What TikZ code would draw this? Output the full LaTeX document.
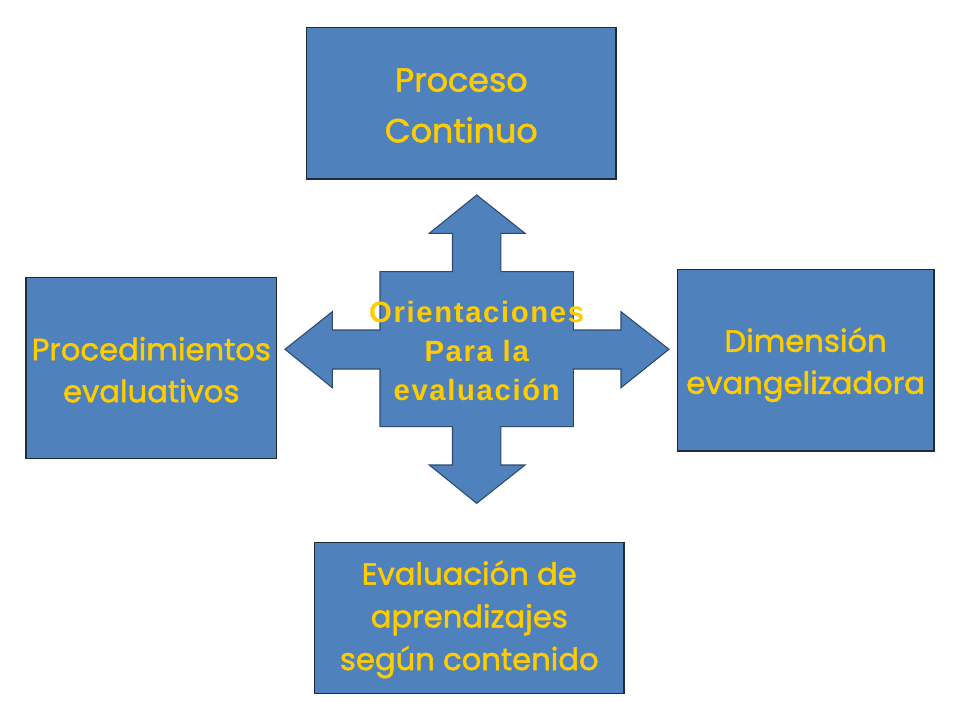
\documentclass[tikz,border=0pt]{standalone}
\usepackage{fontspec}
\setmainfont{Poppins}[FakeBold=1.6]
\newfontfamily\crossfont{Liberation Sans}[LetterSpace=5.5]
\definecolor{boxblue}{HTML}{4F81BD}
\definecolor{gold}{HTML}{FFCC00}
\definecolor{edgedark}{HTML}{1F2A3A}
\definecolor{crossedge}{HTML}{2C4A70}
\tikzset{
  outerbox/.style={draw=edgedark, line width=0.9pt, fill=boxblue, inner sep=0pt},
  boxtext/.style={text=gold, align=center, font=\fontsize{23}{31.5}\selectfont},
  crosstext/.style={text=gold, align=center, font=\crossfont\bfseries\fontsize{22}{29}\selectfont},
}
\begin{document}
\begin{tikzpicture}[x=0.75pt,y=-0.75pt]
\useasboundingbox (0,0) rectangle (960,720);
\fill[white] (0,0) rectangle (960,720);
% outer boxes
\draw[outerbox] (306.7,27.7) rectangle (616,179);
\node[boxtext, font=\fontsize{25}{38}\selectfont] (proceso) at (461.3,105.5) {Proceso\\Continuo};
\draw[outerbox] (26,277.3) rectangle (276.7,458.3);
\node[boxtext] (proc) at (151.3,369.7) {Procedimientos\\evaluativos};
\draw[outerbox] (677.3,269.3) rectangle (934,451);
\node[boxtext] (dim) at (805.6,364.8) {Dimensión\\evangelizadora};
\draw[outerbox] (314.7,542.7) rectangle (624,693.3);
\node[boxtext, font=\fontsize{23}{32}\selectfont] (eval) at (469.3,619.4) {Evaluación de\\aprendizajes\\según contenido};
% central cross
\draw[crossedge, line width=0.8pt, fill=boxblue]
  (476.7,195) -- (525,233.3) -- (500.9,233.3) -- (500.9,271.7) -- (573.3,271.7)
  -- (573.3,330) -- (621,330) -- (621,311.7) -- (669,349.3) -- (621,387.7)
  -- (621,369) -- (573.3,369) -- (573.3,426.7) -- (500.9,426.7) -- (500.9,465)
  -- (525,465) -- (476.7,503.3) -- (429.3,465) -- (452.5,465) -- (452.5,426.7)
  -- (380,426.7) -- (380,369) -- (332.3,369) -- (332.3,387.7) -- (285,349.3)
  -- (332.3,311.7) -- (332.3,330) -- (380,330) -- (380,271.7) -- (452.5,271.7)
  -- (452.5,233.3) -- (429.3,233.3) -- cycle;
\node[crosstext] (orient) at (476.7,351) {Orientaciones\\Para la\\evaluación};
\end{tikzpicture}
\end{document}
